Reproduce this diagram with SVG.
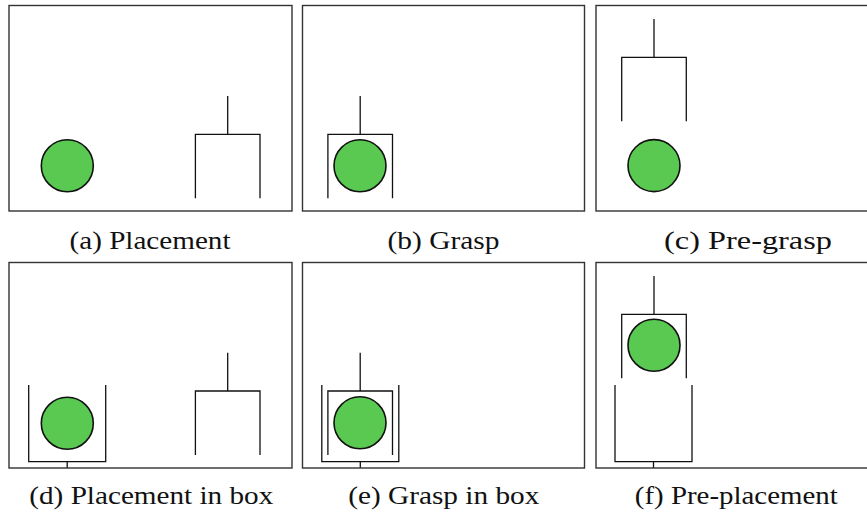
<svg xmlns="http://www.w3.org/2000/svg" width="867" height="516" viewBox="0 0 867 516">
<style>
.frame{fill:none;stroke:#333;stroke-width:1.4}
.ball{fill:#59c952;stroke:#111;stroke-width:1.6}
.ln{fill:none;stroke:#111;stroke-width:1.3}
.cap{font-family:"Liberation Serif","Times New Roman",serif;font-size:26px;fill:#111;text-anchor:middle}
</style>
<rect width="867" height="516" fill="#fff"/>
<defs>
<path id="grip" d="M0,0 V38.3 M-32.3,102.3 V38.3 H32.3 V102.3"/>
<path id="box" d="M-38.5,0 V76.7 H38.5 V0 M0,76.7 V82.7"/>
</defs>
<g id="panel-a">
<rect class="frame" x="9" y="5.5" width="283" height="205.5"/>
<circle class="ball" cx="67.3" cy="165.7" r="26"/>
<use href="#grip" class="ln" x="227.7" y="96"/>
<text class="cap" x="150" y="248.5" textLength="161" lengthAdjust="spacingAndGlyphs">(a) Placement</text>
</g>
<g id="panel-b">
<rect class="frame" x="302.5" y="5.5" width="282" height="205.5"/>
<circle class="ball" cx="360" cy="165.7" r="26"/>
<use href="#grip" class="ln" x="360.2" y="96"/>
<text class="cap" x="443.5" y="248.5" textLength="112" lengthAdjust="spacingAndGlyphs">(b) Grasp</text>
</g>
<g id="panel-c">
<rect class="frame" x="596" y="5.5" width="283" height="205.5"/>
<circle class="ball" cx="654" cy="165.6" r="26"/>
<use href="#grip" class="ln" x="654" y="19"/>
<text class="cap" x="748" y="248.5" textLength="168" lengthAdjust="spacingAndGlyphs">(c) Pre-grasp</text>
</g>
<g id="panel-d">
<rect class="frame" x="9" y="262.5" width="283" height="205.5"/>
<use href="#box" class="ln" x="67.2" y="385"/>
<circle class="ball" cx="67.3" cy="423.3" r="26"/>
<use href="#grip" class="ln" x="227.7" y="352.7"/>
<text class="cap" x="151.3" y="504" textLength="244" lengthAdjust="spacingAndGlyphs">(d) Placement in box</text>
</g>
<g id="panel-e">
<rect class="frame" x="302.5" y="262.5" width="282" height="205.5"/>
<use href="#box" class="ln" x="360.3" y="385"/>
<circle class="ball" cx="360" cy="422.7" r="26"/>
<use href="#grip" class="ln" x="360.2" y="352.7"/>
<text class="cap" x="443.8" y="504" textLength="191" lengthAdjust="spacingAndGlyphs">(e) Grasp in box</text>
</g>
<g id="panel-f">
<rect class="frame" x="596" y="262.5" width="283" height="205.5"/>
<use href="#box" class="ln" x="653.5" y="385"/>
<circle class="ball" cx="654" cy="345.3" r="26"/>
<use href="#grip" class="ln" x="654" y="276"/>
<text class="cap" x="736.3" y="504" textLength="203" lengthAdjust="spacingAndGlyphs">(f) Pre-placement</text>
</g>
<g id="connectors"/>
</svg>
